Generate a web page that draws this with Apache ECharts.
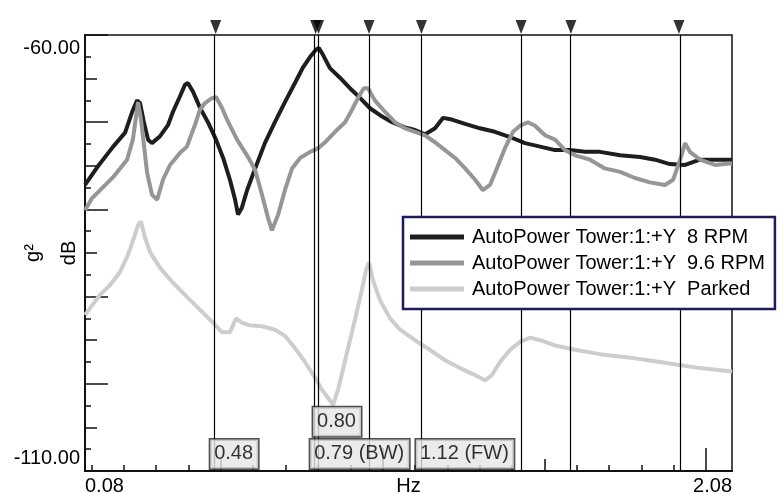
<!DOCTYPE html>
<html><head><meta charset="utf-8">
<script src="https://cdn.jsdelivr.net/npm/echarts@6/dist/echarts.min.js"></script>
<style>html,body{margin:0;padding:0;background:#fff}#c{width:780px;height:493px}</style>
</head><body><div id="c"></div>
<script>
// ---- data ----
const seriesNames = ['AutoPower Tower:1:+Y  8 RPM', 'AutoPower Tower:1:+Y  9.6 RPM', 'AutoPower Tower:1:+Y  Parked'];
const rpm8 = [[0.080,-77.2],[0.117,-75.2],[0.167,-72.8],[0.204,-71.2],[0.225,-68.9],[0.241,-67.5],[0.250,-67.8],[0.262,-70.0],[0.275,-72.0],[0.287,-72.4],[0.312,-71.6],[0.337,-70.3],[0.352,-68.8],[0.374,-67.0],[0.389,-65.7],[0.398,-65.5],[0.414,-66.5],[0.435,-68.3],[0.460,-70.0],[0.485,-72.0],[0.507,-74.1],[0.528,-76.6],[0.544,-78.9],[0.553,-80.6],[0.565,-79.8],[0.581,-77.8],[0.606,-75.3],[0.636,-72.4],[0.667,-70.0],[0.698,-67.7],[0.729,-65.5],[0.754,-63.7],[0.776,-62.5],[0.794,-61.7],[0.803,-61.5],[0.816,-62.3],[0.837,-63.8],[0.868,-64.9],[0.899,-66.1],[0.930,-67.2],[0.961,-68.4],[0.992,-69.2],[1.029,-70.0],[1.069,-70.6],[1.100,-70.9],[1.131,-71.4],[1.162,-70.7],[1.187,-69.5],[1.214,-69.7],[1.255,-70.2],[1.301,-70.7],[1.347,-71.1],[1.394,-71.7],[1.440,-72.4],[1.487,-72.8],[1.533,-73.2],[1.579,-73.2],[1.626,-73.4],[1.672,-73.4],[1.734,-73.8],[1.796,-74.0],[1.842,-74.3],[1.888,-74.8],[1.935,-74.9],[1.981,-74.3],[2.027,-74.3],[2.080,-74.3]];
const rpm96 = [[0.080,-80.1],[0.102,-78.7],[0.167,-76.3],[0.210,-74.3],[0.228,-72.0],[0.244,-67.7],[0.253,-69.7],[0.272,-75.8],[0.287,-78.3],[0.303,-78.9],[0.321,-76.6],[0.343,-74.9],[0.374,-73.5],[0.395,-72.8],[0.420,-70.3],[0.435,-68.6],[0.451,-67.8],[0.470,-67.3],[0.485,-67.1],[0.504,-68.4],[0.519,-69.7],[0.550,-72.0],[0.584,-74.0],[0.606,-75.5],[0.627,-78.3],[0.646,-81.0],[0.658,-82.4],[0.677,-80.6],[0.698,-77.8],[0.720,-75.3],[0.745,-74.1],[0.776,-73.4],[0.800,-73.0],[0.822,-72.3],[0.853,-71.1],[0.884,-70.0],[0.905,-68.6],[0.924,-67.2],[0.942,-66.1],[0.955,-66.1],[0.976,-67.5],[1.007,-68.8],[1.038,-70.0],[1.069,-70.7],[1.100,-71.1],[1.131,-71.5],[1.162,-72.3],[1.193,-73.2],[1.224,-74.1],[1.255,-75.3],[1.286,-76.6],[1.310,-77.8],[1.332,-77.2],[1.353,-75.3],[1.378,-73.0],[1.403,-71.1],[1.425,-70.4],[1.449,-70.0],[1.471,-70.4],[1.502,-71.5],[1.533,-72.0],[1.564,-73.2],[1.595,-73.8],[1.641,-74.3],[1.687,-75.3],[1.734,-75.7],[1.780,-76.4],[1.826,-76.9],[1.873,-77.2],[1.898,-76.6],[1.920,-74.3],[1.935,-72.4],[1.950,-73.4],[1.981,-74.3],[2.027,-74.9],[2.080,-74.7]];
const parked = [[0.080,-92.1],[0.102,-91.0],[0.126,-89.8],[0.157,-88.7],[0.188,-87.2],[0.213,-85.2],[0.231,-83.3],[0.244,-81.8],[0.253,-81.4],[0.266,-83.3],[0.281,-84.9],[0.312,-86.7],[0.349,-88.3],[0.389,-89.8],[0.435,-91.5],[0.473,-92.9],[0.504,-94.1],[0.528,-94.1],[0.547,-92.5],[0.565,-93.0],[0.590,-93.3],[0.627,-93.4],[0.667,-93.8],[0.698,-94.5],[0.729,-95.9],[0.760,-97.5],[0.791,-99.3],[0.813,-100.7],[0.831,-101.6],[0.847,-102.4],[0.862,-100.7],[0.881,-97.8],[0.899,-95.0],[0.918,-92.1],[0.936,-89.2],[0.949,-86.9],[0.958,-86.1],[0.970,-88.1],[0.992,-90.4],[1.023,-92.5],[1.054,-93.8],[1.100,-95.0],[1.146,-96.1],[1.193,-97.3],[1.239,-98.2],[1.286,-99.0],[1.316,-99.6],[1.338,-99.0],[1.363,-97.5],[1.394,-96.1],[1.425,-95.2],[1.456,-94.7],[1.487,-95.0],[1.533,-95.6],[1.595,-96.1],[1.672,-96.6],[1.765,-97.0],[1.857,-97.5],[1.981,-98.2],[2.080,-98.6]];
const markerHz = [0.484, 0.793, 0.802, 0.958, 1.12, 1.428, 1.582, 1.916];
const labelHz = [0.484, 0.793, 1.12, 0.802];
const labelText = ['0.48', '0.79 (BW)', '1.12 (FW)', '0.80'];
const labelRow = [0, 0, 0, 1];
const xTickLabels = ['0.08', '2.08'];
const yTickLabels = ['-110.00', '-60.00'];
const xMinorTicks = [0.1,0.2,0.3,0.4,0.5,0.6,0.7,0.8,0.9,1.0,1.1,1.2,1.3,1.4,1.5,1.6,1.7,1.8,1.9,2.0];
const xMidTicks = [0.5,1.0,1.5,2.0];
const xMajorTicks = [1.0,2.0];

// ---- style ----
const FONT = 'Liberation Sans, Arial, sans-serif';
const colors = ['#1e1e1e', '#969696', '#cdcdcd'];
const X_MIN = 0.08, X_MAX = 2.08, Y_MIN = -110, Y_MAX = -60;
const rowDb = [-108.1, -104.4];

const chart = echarts.init(document.getElementById('c'));
function xAx(ticks, len, extra) {
  return Object.assign({
    type: 'value', min: X_MIN, max: X_MAX, position: 'bottom',
    axisLine: {show: false}, splitLine: {show: false},
    axisTick: {show: true, inside: true, length: len, customValues: ticks, lineStyle: {color: '#111', width: 1.5}},
    axisLabel: {show: false}
  }, extra || {});
}
function yAx(interval, len, extra) {
  return Object.assign({
    type: 'value', min: Y_MIN, max: Y_MAX, interval: interval, position: 'left',
    axisLine: {show: false}, splitLine: {show: false},
    axisTick: {show: true, inside: true, length: len, lineStyle: {color: '#111', width: 1.5}},
    axisLabel: {show: false}
  }, extra || {});
}
const curves = [rpm8, rpm96, parked].map((d, i) => ({
  name: seriesNames[i], type: 'line', data: d, showSymbol: false, symbol: 'none',
  xAxisIndex: 0, yAxisIndex: 0, z: 3, silent: true,
  lineStyle: {color: colors[i], width: 4}, itemStyle: {color: colors[i]}
}));

chart.setOption({
  animation: false,
  backgroundColor: '#fff',
  grid: {left: 85, top: 35, right: 48, bottom: 22, show: true, borderColor: '#111', borderWidth: 1.5,
    backgroundColor: 'transparent', containLabel: false, outerBoundsMode: 'none'},
  legend: {
    data: seriesNames, orient: 'vertical', left: 403, top: 217, z: 10,
    backgroundColor: '#fff', borderColor: '#1b1b5e', borderWidth: 2.5,
    padding: [10, 10, 10, 7], itemGap: 6, itemWidth: 54, itemHeight: 5, icon: 'rect',
    textStyle: {fontFamily: FONT, fontSize: 20, color: '#000', padding: [0, 0, 0, 3]},
    selectedMode: false
  },
  xAxis: [
    xAx(xMinorTicks, 6, {
      axisLine: {show: true, lineStyle: {color: '#111', width: 2}},
      axisLabel: {show: true, customValues: [X_MIN, X_MAX], margin: 5, fontFamily: FONT, fontSize: 20, color: '#000',
        alignMinLabel: 'left', alignMaxLabel: 'right',
        formatter: v => (Math.abs(v - X_MIN) < 1e-6 ? xTickLabels[0] : xTickLabels[1])},
      name: 'Hz', nameLocation: 'middle', nameGap: 5, nameMoveOverlap: false,
      nameTextStyle: {fontFamily: FONT, fontSize: 20, color: '#000', verticalAlign: 'top'}
    }),
    xAx(xMidTicks, 12),
    xAx(xMajorTicks, 23)
  ],
  yAxis: [
    yAx(10, 23, {
      axisLine: {show: true, lineStyle: {color: '#111', width: 2}},
      axisLabel: {show: true, margin: 5, fontFamily: FONT, fontSize: 20, color: '#000', lineHeight: 26,
        formatter: v => (v === Y_MAX ? '\n' + yTickLabels[1] : (v === Y_MIN ? yTickLabels[0] + '\n' : ''))}
    }),
    yAx(5, 12, {name: 'dB', nameLocation: 'middle', nameRotate: 90, nameGap: 6, nameMoveOverlap: false,
      nameTextStyle: {fontFamily: FONT, fontSize: 20, color: '#000'}}),
    yAx(2.5, 6, {name: 'g\u00b2', nameLocation: 'middle', nameRotate: 90, nameGap: 42, nameMoveOverlap: false,
      nameTextStyle: {fontFamily: FONT, fontSize: 20, color: '#000'}})
  ],
  series: [
    {
      name: 'markers', type: 'line', data: [], xAxisIndex: 0, yAxisIndex: 0, z: 2, silent: true,
      markLine: {
        silent: true, symbol: ['none', 'none'], animation: false,
        label: {show: false},
        lineStyle: {color: '#000', width: 1.2, type: 'solid'},
        emphasis: {disabled: true},
        data: markerHz.map(h => ({xAxis: h}))
      }
    },
    ...curves,
    {
      name: 'triangles', type: 'scatter', xAxisIndex: 0, yAxisIndex: 0, z: 6, silent: true, clip: false,
      symbol: 'triangle', symbolRotate: 180, symbolSize: [11, 14], symbolOffset: [0, -8],
      itemStyle: {color: '#000'},
      data: markerHz.map(h => [h, Y_MAX])
    },
    {
      name: 'labels', type: 'scatter', xAxisIndex: 0, yAxisIndex: 0, z: 7, silent: true, clip: false,
      symbolSize: 1, itemStyle: {color: 'rgba(0,0,0,0)'},
      label: {show: true, position: [-5, 0], align: 'left', verticalAlign: 'middle',
        fontFamily: FONT, fontSize: 20, color: '#000', lineHeight: 22,
        backgroundColor: '#e6e6e6', borderColor: '#222', borderWidth: 1.5, padding: [4, 5, 3, 4]},
      data: labelHz.map((h, i) => ({value: [h, rowDb[labelRow[i]]], label: {formatter: labelText[i]}}))
    }
  ]
});
</script></body></html>
